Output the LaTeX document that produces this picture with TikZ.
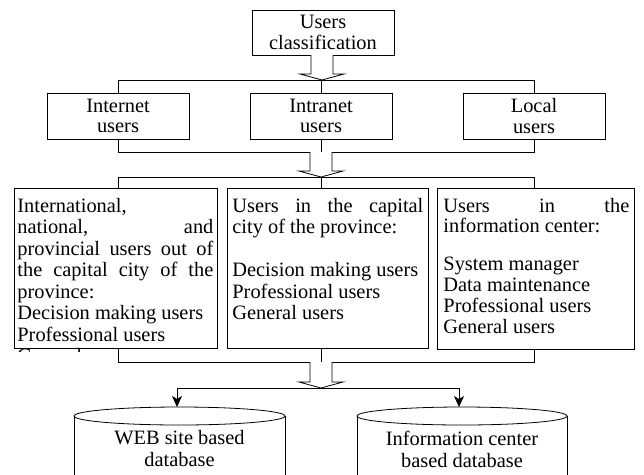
\documentclass[tikz,border=0pt]{standalone}
\usepackage{fontspec}
\setmainfont{Liberation Serif}
\usetikzlibrary{arrows.meta,calc}
\newcommand{\harrow}[4]{%
  \draw[line width=0.8pt, fill=white] (#1-11,#2) -- (#1-11,#3) -- (#1-22,#3) -- (#1,#4) -- (#1+22,#3) -- (#1+11,#3) -- (#1+11,#2);}
\begin{document}
\begin{tikzpicture}[x=1pt,y=-1pt, line width=0.8pt,
  every node/.style={font=\fontsize{20.4}{20.5}\selectfont},
  box/.style={draw, rectangle, inner sep=0pt, align=center, minimum width=142pt, minimum height=46pt},
  tbox/.style={draw, rectangle, inner sep=0pt, anchor=north west},
  tline/.style={anchor=base west, inner sep=0pt},
  dbtext/.style={align=center, inner sep=0pt, font=\fontsize{20.4}{22}\selectfont},
  tip/.style={-{Stealth[length=11pt,width=10pt,inset=3pt]}}
]
\clip (0,0) rectangle (644,474);
\fill[white] (0,0) rectangle (644,474);

% top and second row
\node[box, minimum height=45pt] (top) at (323,32.5) {Users\\classification};
\node[box] (inet) at (118,116) {Internet\\users};
\node[box] (intra) at (321,116) {Intranet\\users};
\node[box] (local) at (534,116) {Local\\users};

% third row boxes
\node[tbox, minimum width=203pt, minimum height=160pt] (b1) at (14,188) {};
\node[tbox, minimum width=201pt, minimum height=160pt] (b2) at (227,188) {};
\node[tbox, minimum width=197pt, minimum height=161pt] (b3) at (437,188) {};

% left box text
\node[tline] (l1) at (17,212) {International,};
\node[tline] (l2) at (17,233.5) {\makebox[196pt][s]{national, and}};
\node[tline] (l3) at (17,255) {\makebox[196pt][s]{provincial users out of}};
\node[tline] (l4) at (17,276.5) {\makebox[196pt][s]{the capital city of the}};
\node[tline] (l5) at (17,298) {province:};
\node[tline] (l6) at (17,319.5) {Decision making users};
\node[tline] (l7) at (17,341) {Professional users};
\begin{scope}
\clip (14,188) rectangle (217,351);
\node[tline] (l8) at (17,362.5) {General users};
\end{scope}

% middle box text
\node[tline] (m1) at (232,212) {\makebox[191pt][s]{Users in the capital}};
\node[tline] (m2) at (232,233.5) {city of the province:};
\node[tline] (m3) at (232,276.5) {Decision making users};
\node[tline] (m4) at (232,298) {Professional users};
\node[tline] (m5) at (232,319.5) {General users};

% right box text
\node[tline] (r1) at (443,212) {\makebox[186pt][s]{Users in the}};
\node[tline] (r2) at (443,232.5) {information center:};
\node[tline] (r3) at (443,270) {System manager};
\node[tline] (r4) at (443,291) {Data maintenance};
\node[tline] (r5) at (443,312) {Professional users};
\node[tline] (r6) at (443,333) {General users};

% bus 1
\draw (inet.north) -- (inet.north |- 0,80) -- (local.north |- 0,80) -- (local.north);
\draw (intra.north |- 0,80) -- (intra.north);
\harrow{322}{55}{74}{80}

% bus 2 and 3
\draw (inet.south) -- (inet.south |- 0,152) -- (local.south |- 0,152) -- (local.south);
\draw (intra.south) -- (intra.south |- 0,152);
\draw (inet |- b1.north) -- (inet |- 0,177) -- (local |- 0,177) -- (local |- b3.north);
\draw (intra |- 0,177) -- (intra |- b2.north);
\harrow{321}{152}{171}{177}

% bus 4
\draw (inet |- b1.south) -- (inet |- 0,362) -- (local |- 0,362) -- (local |- b3.south);
\draw (intra |- b2.south) -- (intra |- 0,362);
\harrow{321}{362}{382}{388}

% databases
\coordinate (db1top) at (177,407);
\coordinate (db2top) at (459,407);
\draw (179.5,416) ellipse [x radius=105.5, y radius=9];
\draw (74,416) -- (74,480);
\draw (285,416) -- (285,480);
\draw (462,416) ellipse [x radius=105, y radius=9];
\draw (357,416) -- (357,480);
\draw (567,416) -- (567,480);
\node[dbtext] (db1) at (179.5,449) {WEB site based\\database};
\node[dbtext] (db2) at (462,449) {Information center\\based database};

% bus 5
\draw (db1top |- 0,388) -- (db2top |- 0,388);
\draw[tip] (db1top |- 0,388) -- (db1top);
\draw[tip] (db2top |- 0,388) -- (db2top);
\end{tikzpicture}
\end{document}
